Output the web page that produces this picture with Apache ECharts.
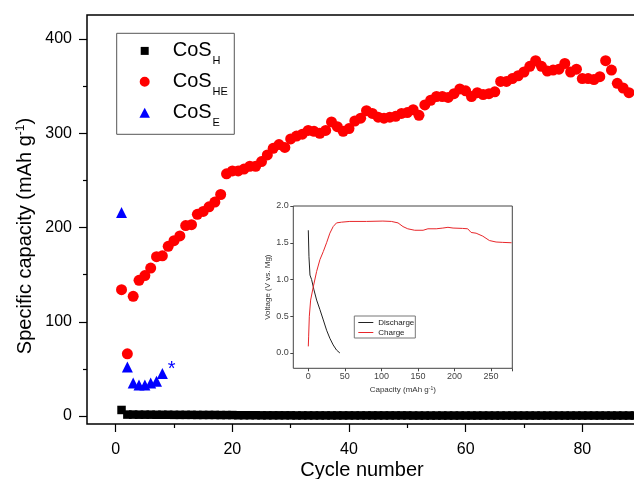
<!DOCTYPE html>
<html>
<head>
<meta charset="utf-8">
<script src="https://cdn.jsdelivr.net/npm/echarts@6/dist/echarts.min.js"></script>
<style>
html,body{margin:0;padding:0;background:#fff;}
#chart{width:634px;height:479px;}
</style>
</head>
<body>
<div id="chart"></div>
<script>
// ---------- main chart data (cycle number = index + 1) ----------
const capH = [
  6.4, 1.5, 1.5, 1.4, 1.4, 1.4, 1.3, 1.3, 1.3, 1.2,
  1.2, 1.2, 1.2, 1.1, 1.1, 1.1, 1.1, 1.0, 1.0, 1.0,
  0.8, 0.8, 0.8, 0.8, 0.7, 0.7, 0.7, 0.7, 0.7, 0.7,
  0.6, 0.6, 0.6, 0.6, 0.6, 0.6, 0.6, 0.6, 0.6, 0.6,
  0.6, 0.6, 0.6, 0.6, 0.6, 0.6, 0.6, 0.6, 0.6, 0.6,
  0.5, 0.5, 0.5, 0.5, 0.5, 0.5, 0.5, 0.5, 0.5, 0.5,
  0.5, 0.5, 0.5, 0.5, 0.5, 0.5, 0.5, 0.5, 0.5, 0.5,
  0.5, 0.5, 0.5, 0.5, 0.5, 0.5, 0.5, 0.5, 0.5, 0.5,
  0.5, 0.5, 0.5, 0.5, 0.5, 0.5, 0.5, 0.5, 0.5, 0.5
];
const capHE = [
  134, 66, 127, 144, 149, 157, 169, 170, 180, 186,
  191, 202, 203, 214, 217, 222, 227, 235, 257, 260,
  260, 262, 265, 265, 270, 277, 284, 288, 285, 294,
  297, 299, 303, 302, 300, 303, 312, 307, 302, 305,
  313, 316, 324, 321, 317, 316, 317, 318, 321, 322,
  325, 319, 330, 335, 339, 339, 338, 342, 347, 345,
  339, 343, 341, 342, 344, 355, 355, 358, 361, 365,
  371, 377, 371, 366, 367, 368, 374, 365, 368, 358,
  358, 357, 360, 377, 367, 353, 348, 343
];
const capE = [216, 52, 35, 33, 33, 35, 37, 45];
const asteriskPoint = [9.6, 49];

const mainXTicks = [0, 20, 40, 60, 80];
const mainYTicks = [0, 100, 200, 300, 400];
const mainXRange = [-5, 89];
const mainYRange = [-8.5, 425.5];

const seriesNames = ['CoSH', 'CoSHE', 'CoSE'];
const seriesSubs = {CoSH: 'H', CoSHE: 'HE', CoSE: 'E'};

// ---------- inset data ----------
const dischargeCap = [0, 0.9, 2.3, 4.5, 7.7, 11.4, 15.9, 20.5, 25, 29.5, 34, 38.6, 43.2];
const dischargeV   = [1.67, 1.31, 1.06, 1.0, 0.86, 0.72, 0.59, 0.45, 0.31, 0.2, 0.11, 0.04, 0.0];
const chargeCap = [0, 0.45, 1.4, 3.2, 6.8, 11.4, 15.9, 20.5, 25, 29.5,
  34, 38.6, 45.5, 56.8, 79.5, 102, 113.6, 122.7, 129.5, 136,
  145.5, 157, 163.6, 175, 184, 191, 198, 211, 218, 222.7,
  229.5, 238.6, 247.7, 256.8, 265.9, 278];
const chargeV = [0.09, 0.22, 0.5, 0.72, 0.9, 1.11, 1.27, 1.38, 1.5, 1.63,
  1.72, 1.77, 1.78, 1.79, 1.79, 1.795, 1.79, 1.77, 1.72, 1.69,
  1.67, 1.67, 1.69, 1.69, 1.70, 1.71, 1.70, 1.695, 1.69, 1.64,
  1.63, 1.59, 1.53, 1.51, 1.505, 1.5];
const insetXTicks = [0, 50, 100, 150, 200, 250];
const insetYTicks = [0.0, 0.5, 1.0, 1.5, 2.0];
const insetXMax = 279;
const insetXRange = [-20, 279];
const insetYRange = [-0.21, 2.0];

const FONT = '"Liberation Sans", Arial, Helvetica, sans-serif';

const chart = echarts.init(document.getElementById('chart'), null, {renderer: 'canvas'});

const hiddenAxis = (grid, range, extra) => Object.assign({
  type: 'value', gridIndex: grid, min: range[0], max: range[1],
  axisLine: {show: false, onZero: false}, axisTick: {show: false}, axisLabel: {show: false},
  splitLine: {show: false}, nameMoveOverlap: false
}, extra || {});

const option = {
  animation: false,
  backgroundColor: '#fff',
  textStyle: {fontFamily: FONT},
  grid: [
    {left: 87, top: 15, right: -3, bottom: 55, show: true, borderColor: '#000', borderWidth: 1.5,
     backgroundColor: 'transparent', containLabel: false, outerBoundsMode: 'none'},
    {left: 115.7, top: 39, right: 51.7, bottom: 63, containLabel: false, outerBoundsMode: 'none'},
    {left: 293.3, top: 206, width: 219, height: 162.3, show: true, borderColor: '#444', borderWidth: 1,
     backgroundColor: 'transparent', containLabel: false, outerBoundsMode: 'none'},
    {left: 308.3, top: 206, right: 121.7, bottom: 126, containLabel: false, outerBoundsMode: 'none'}
  ],
  xAxis: [
    hiddenAxis(0, mainXRange, {
      name: 'Cycle number', nameLocation: 'middle', nameGap: 36,
      nameTextStyle: {fontSize: 20, color: '#000', fontFamily: FONT}
    }),
    {
      type: 'value', gridIndex: 1, position: 'bottom', offset: 8,
      min: mainXTicks[0], max: mainXTicks[mainXTicks.length - 1],
      interval: mainXTicks[1] - mainXTicks[0],
      axisLine: {show: false, onZero: false},
      axisTick: {show: true, inside: false, length: 8, lineStyle: {color: '#000', width: 1.2}},
      minorTick: {show: true, splitNumber: 2, length: 4, lineStyle: {color: '#000', width: 1.2}},
      axisLabel: {show: true, margin: 18, fontSize: 16, color: '#000', fontFamily: FONT},
      splitLine: {show: false}, minorSplitLine: {show: false}
    },
    hiddenAxis(2, insetXRange, {
      name: 'Capacity (mAh g{sup|-1})', nameLocation: 'middle', nameGap: 17.5,
      nameTextStyle: {fontSize: 8, color: '#333', fontFamily: FONT,
        rich: {sup: {fontSize: 5, verticalAlign: 'top', color: '#333', fontFamily: FONT}}}
    }),
    {
      type: 'value', gridIndex: 3, position: 'bottom', offset: 15.3,
      min: insetXTicks[0], max: insetXMax,
      interval: insetXTicks[1] - insetXTicks[0],
      axisLine: {show: false, onZero: false},
      axisTick: {show: true, inside: false, length: 3, lineStyle: {color: '#444', width: 1}},
      axisLabel: {show: true, margin: 4, fontSize: 9, color: '#444', fontFamily: FONT,
        formatter: v => (insetXTicks.indexOf(v) >= 0 ? String(v) : '')},
      splitLine: {show: false}
    }
  ],
  yAxis: [
    hiddenAxis(0, mainYRange, {
      name: 'Specific capacity (mAh g{sup|-1})', nameLocation: 'middle', nameGap: 52,
      nameTextStyle: {fontSize: 20, color: '#000', fontFamily: FONT, padding: [0, 33, 0, 0],
        rich: {sup: {fontSize: 12, verticalAlign: 'top', color: '#000', fontFamily: FONT}}}
    }),
    {
      type: 'value', gridIndex: 1, position: 'left', offset: 28.7,
      min: mainYTicks[0], max: mainYTicks[mainYTicks.length - 1],
      interval: mainYTicks[1] - mainYTicks[0],
      axisLine: {show: false, onZero: false},
      axisTick: {show: true, inside: false, length: 8, lineStyle: {color: '#000', width: 1.2}},
      minorTick: {show: true, splitNumber: 2, length: 4, lineStyle: {color: '#000', width: 1.2}},
      axisLabel: {show: true, margin: 15, fontSize: 16, color: '#000', fontFamily: FONT},
      splitLine: {show: false}, minorSplitLine: {show: false}
    },
    hiddenAxis(2, insetYRange, {
      name: 'Voltage (V vs. Mg)', nameLocation: 'middle', nameGap: 22,
      nameTextStyle: {fontSize: 8, color: '#333', fontFamily: FONT}
    }),
    {
      type: 'value', gridIndex: 3, position: 'left', offset: 15,
      min: insetYTicks[0], max: insetYTicks[insetYTicks.length - 1],
      interval: insetYTicks[1] - insetYTicks[0],
      axisLine: {show: false, onZero: false},
      axisTick: {show: true, inside: false, length: 3, lineStyle: {color: '#444', width: 1}},
      axisLabel: {show: true, margin: 4.5, fontSize: 9, color: '#444', fontFamily: FONT,
        formatter: v => v.toFixed(1)},
      splitLine: {show: false}
    }
  ],
  legend: [
    {
      orient: 'vertical', left: 116.7, top: 33.3,
      padding: [1.9, 6.4, 6.1, 5], itemGap: 0, itemWidth: 46, itemHeight: 10,
      backgroundColor: '#fff', borderColor: '#555', borderWidth: 1,
      selectedMode: false,
      data: [
        {name: seriesNames[0], icon: 'path://M0,0L0,0M46,10L46,10M19,1.2L27,1.2L27,9.2L19,9.2Z'},
        {name: seriesNames[1], icon: 'path://M0,0L0,0M46,10L46,10M23,0A5,5,0,1,1,22.99,0Z'},
        {name: seriesNames[2], icon: 'path://M0,0L0,0M46,10L46,10M23,-0.5L28.5,10L17.5,10Z'}
      ],
      formatter: name => 'CoS{s|' + seriesSubs[name] + '}',
      textStyle: {fontSize: 20, lineHeight: 20, color: '#000', fontFamily: FONT,
        rich: {s: {fontSize: 11, lineHeight: 11, padding: [20, 0, 0, 1], color: '#000', fontFamily: FONT}}}
    },
    {
      orient: 'vertical', left: 354.3, top: 316,
      padding: [2, 1, 1, 4], itemGap: 1, itemWidth: 15, itemHeight: 8,
      backgroundColor: '#fff', borderColor: '#777', borderWidth: 1,
      selectedMode: false,
      data: [
        {name: 'Discharge', icon: 'path://M0,0L0,0M15,8L15,8M0,3.5L15,3.5L15,4.5L0,4.5Z'},
        {name: 'Charge', icon: 'path://M0,0L0,0M15,8L15,8M0,3.5L15,3.5L15,4.5L0,4.5Z'}
      ],
      textStyle: {fontSize: 8, lineHeight: 9, color: '#222', fontFamily: FONT}
    }
  ],
  series: [
    {
      name: seriesNames[0], type: 'scatter', xAxisIndex: 1, yAxisIndex: 1,
      symbol: 'rect', symbolSize: 8.5, clip: false, z: 3,
      itemStyle: {color: '#000', opacity: 1},
      emphasis: {disabled: true},
      data: capH.map((v, i) => [i + 1, v])
    },
    {
      name: seriesNames[1], type: 'scatter', xAxisIndex: 1, yAxisIndex: 1,
      symbol: 'circle', symbolSize: 11, clip: false, z: 4,
      itemStyle: {color: '#ff0000', opacity: 1},
      emphasis: {disabled: true},
      data: capHE.map((v, i) => [i + 1, v])
    },
    {
      name: seriesNames[2], type: 'scatter', xAxisIndex: 1, yAxisIndex: 1,
      symbol: 'triangle', symbolSize: 11, clip: false, z: 5,
      itemStyle: {color: '#0000ff', opacity: 1},
      emphasis: {disabled: true},
      data: capE.map((v, i) => [i + 1, v]),
      markPoint: {
        symbol: 'circle', symbolSize: 1,
        itemStyle: {color: 'rgba(0,0,0,0)'},
        label: {show: true, position: 'inside', formatter: '*', fontSize: 20, color: '#0000ff', fontFamily: FONT},
        emphasis: {disabled: true},
        data: [{coord: asteriskPoint}]
      }
    },
    {
      name: 'Discharge', type: 'line', xAxisIndex: 3, yAxisIndex: 3,
      symbol: 'none', showSymbol: false, clip: false, z: 6,
      lineStyle: {color: '#222', width: 1}, itemStyle: {color: '#222'},
      emphasis: {disabled: true},
      data: dischargeCap.map((x, i) => [x, dischargeV[i]])
    },
    {
      name: 'Charge', type: 'line', xAxisIndex: 3, yAxisIndex: 3,
      symbol: 'none', showSymbol: false, clip: false, z: 6,
      lineStyle: {color: '#e8262a', width: 1}, itemStyle: {color: '#e8262a'},
      emphasis: {disabled: true},
      data: chargeCap.map((x, i) => [x, chargeV[i]])
    }
  ]
};

chart.setOption(option);
</script>
</body>
</html>
